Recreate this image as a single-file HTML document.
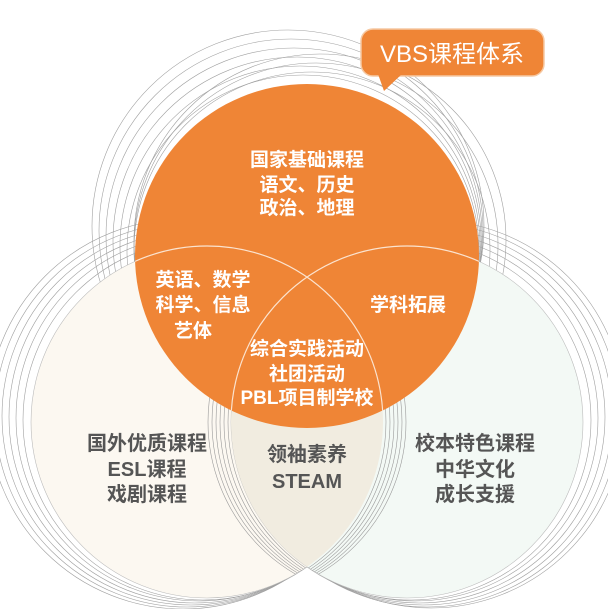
<!DOCTYPE html>
<html><head><meta charset="utf-8"><style>
html,body{margin:0;padding:0;background:#fff;}
svg text{font-family:"Liberation Sans","Noto Sans CJK SC",sans-serif;font-weight:bold;text-anchor:middle;}
</style></head><body>
<svg width="608" height="609" viewBox="0 0 608 609" xmlns="http://www.w3.org/2000/svg">
<defs>
<clipPath id="cl"><circle cx="207" cy="422" r="176"/></clipPath>
<clipPath id="cr"><circle cx="407" cy="422" r="176"/></clipPath>
<clipPath id="co"><circle cx="307" cy="256" r="172"/></clipPath>
</defs>
<g fill="none" stroke="#a0a0a0" stroke-width="0.6">
<circle cx="203" cy="420" r="180"/><circle cx="199" cy="418" r="183"/><circle cx="195" cy="417" r="186"/><circle cx="191" cy="416" r="189"/><circle cx="187" cy="415" r="192"/><circle cx="183" cy="414" r="195"/>
<circle cx="411" cy="420" r="180"/><circle cx="415" cy="418" r="183"/><circle cx="419" cy="417" r="186"/><circle cx="423" cy="416" r="189"/><circle cx="427" cy="415" r="192"/><circle cx="431" cy="414" r="194"/>
<circle cx="303" cy="251" r="176"/><circle cx="300" cy="246" r="180"/><circle cx="297" cy="241" r="184"/><circle cx="294" cy="236" r="188"/><circle cx="291" cy="231" r="192"/><circle cx="288" cy="226" r="196"/><circle cx="312" cy="250" r="178"/><circle cx="316" cy="245" r="182"/><circle cx="320" cy="240" r="186"/>
</g>
<circle cx="207" cy="422" r="176" fill="#fcf8f1" stroke="#bbb" stroke-width="0.6"/>
<circle cx="407" cy="422" r="176" fill="#f3f9f5" stroke="#bbb" stroke-width="0.6"/>
<circle cx="407" cy="422" r="176" fill="#f1ece0" clip-path="url(#cl)"/>
<g fill="none" stroke="#9a9a9a" stroke-width="0.6" clip-path="url(#cl)">
<circle cx="404" cy="422" r="176"/><circle cx="400" cy="422" r="176"/><circle cx="396" cy="422" r="176"/><circle cx="392" cy="422" r="176"/><circle cx="388" cy="422" r="176"/><circle cx="384" cy="422" r="176"/>
</g>
<g fill="none" stroke="#9a9a9a" stroke-width="0.6" clip-path="url(#cr)">
<circle cx="210" cy="422" r="176"/><circle cx="214" cy="422" r="176"/><circle cx="218" cy="422" r="176"/><circle cx="222" cy="422" r="176"/><circle cx="226" cy="422" r="176"/><circle cx="230" cy="422" r="176"/>
</g>
<circle cx="307" cy="256" r="172" fill="#ef8536"/>
<g fill="none" stroke="#fbe3cf" stroke-width="1.2" clip-path="url(#co)">
<circle cx="207" cy="422" r="176"/><circle cx="407" cy="422" r="176"/>
</g>
<rect x="361" y="29" width="183" height="47" rx="12" fill="#ef8536" stroke="#f6c9a3" stroke-width="1.5"/>
<path d="M378 74 L384 91 L402 74 Z" fill="#ef8536"/>
<text x="452" y="62" fill="#fff" font-size="24" style="font-weight:normal">VBS课程体系</text>
<g fill="#fff" font-size="19">
<text x="307" y="166">国家基础课程</text>
<text x="307" y="191">语文、历史</text>
<text x="307" y="214">政治、地理</text>
<text x="203" y="286">英语、数学</text>
<text x="203" y="311">科学、信息</text>
<text x="193" y="337">艺体</text>
<text x="408" y="311">学科拓展</text>
<text x="307" y="355">综合实践活动</text>
<text x="307" y="380">社团活动</text>
<text x="307" y="404">PBL项目制学校</text>
</g>
<g fill="#555" font-size="20">
<text x="147" y="450">国外优质课程</text>
<text x="147" y="476">ESL课程</text>
<text x="147" y="501">戏剧课程</text>
<text x="307" y="461">领袖素养</text>
<text x="307" y="488">STEAM</text>
<text x="475" y="450">校本特色课程</text>
<text x="475" y="476">中华文化</text>
<text x="475" y="501">成长支援</text>
</g>
</svg>
</body></html>
